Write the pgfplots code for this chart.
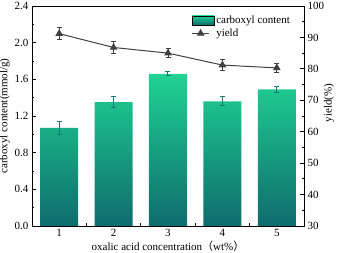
\documentclass[border=0pt]{standalone}
\usepackage{fontspec}
\setmainfont{Liberation Serif}
\newfontfamily\cjk{Noto Sans CJK SC}
\usepackage{pgfplots}
\pgfplotsset{compat=1.18}
\definecolor{gtop}{HTML}{20D394}
\definecolor{gbot}{HTML}{0E6C6D}
\definecolor{errc}{HTML}{137A76}
\definecolor{linec}{HTML}{404040}
\begin{document}
\begin{tikzpicture}[font=\fontsize{11}{13}\selectfont]
\pgfplotsset{
  common/.style={scale only axis, width=272pt, height=220pt, xmin=0.5, xmax=5.5,
    /pgf/number format/assume math mode=true,
    tick style={black, line width=0.8pt}, major tick length=4pt, minor tick length=2.5pt,
    axis line style={line width=0.9pt},
    tick label style={font=\fontsize{11}{13}\selectfont},
    label style={font=\fontsize{11}{13}\selectfont}}
}
\begin{axis}[common, ymin=0, ymax=2.4, ytick={0,0.4,...,2.4},
  yticklabel style={/pgf/number format/.cd, fixed, fixed zerofill, precision=1},
  minor y tick num=1, xtick={1,2,3,4,5}, minor x tick num=1,
  xtick pos=bottom, ytick pos=left,
  ylabel={carboxyl content(mmol/g)},
  ylabel style={yshift=-2pt},
  xlabel={oxalic acid concentration{\cjk （}wt\%{\cjk ）}},
  xlabel style={yshift=3pt}]
\addplot[ybar, bar width=0.7, draw=none, shading=axis, top color=gtop, bottom color=gbot,
  error bars/.cd, y dir=both, y explicit,
  error bar style={errc, line width=1pt},
  error mark options={errc, rotate=90, mark size=2.5pt, line width=1pt}]
  coordinates {(1,1.07) +- (0,0.07) (2,1.35) +- (0,0.06) (3,1.66) +- (0,0.02) (4,1.36) +- (0,0.05) (5,1.49) +- (0,0.03)};
\end{axis}
\begin{axis}[common, ymin=30, ymax=100, ytick={30,40,...,100}, minor y tick num=1,
  axis y line*=right, axis x line=none,
  ylabel={yield(\%)},
  ylabel style={at={(rel axis cs:1,0.5)}, anchor=center, yshift=-25pt, xshift=13pt},
  legend style={at={(0.575,0.975)}, anchor=north west, draw=none, fill=none,
    font=\fontsize{11}{13}\selectfont, row sep=0pt},
  legend cell align=left]
\addlegendimage{legend image code/.code={\path[top color=gtop,bottom color=gbot,shading=axis] (0pt,-4.5pt) rectangle (22pt,4.5pt);}}
\addlegendentry{carboxyl content}
\addplot[linec, line width=1pt, mark=triangle*, mark size=3.5pt,
  error bars/.cd, y dir=both, y explicit,
  error bar style={linec, line width=1pt},
  error mark options={linec, rotate=90, mark size=2.5pt, line width=1pt}]
  coordinates {(1,91.2) +- (0,2) (2,86.8) +- (0,2) (3,85) +- (0,1.5) (4,81.2) +- (0,1.8) (5,80.3) +- (0,1.5)};
\addlegendentry{yield}
\end{axis}
\pgfresetboundingbox
\path (-32pt,-27pt) rectangle (305pt,226pt);
\end{tikzpicture}
\end{document}
